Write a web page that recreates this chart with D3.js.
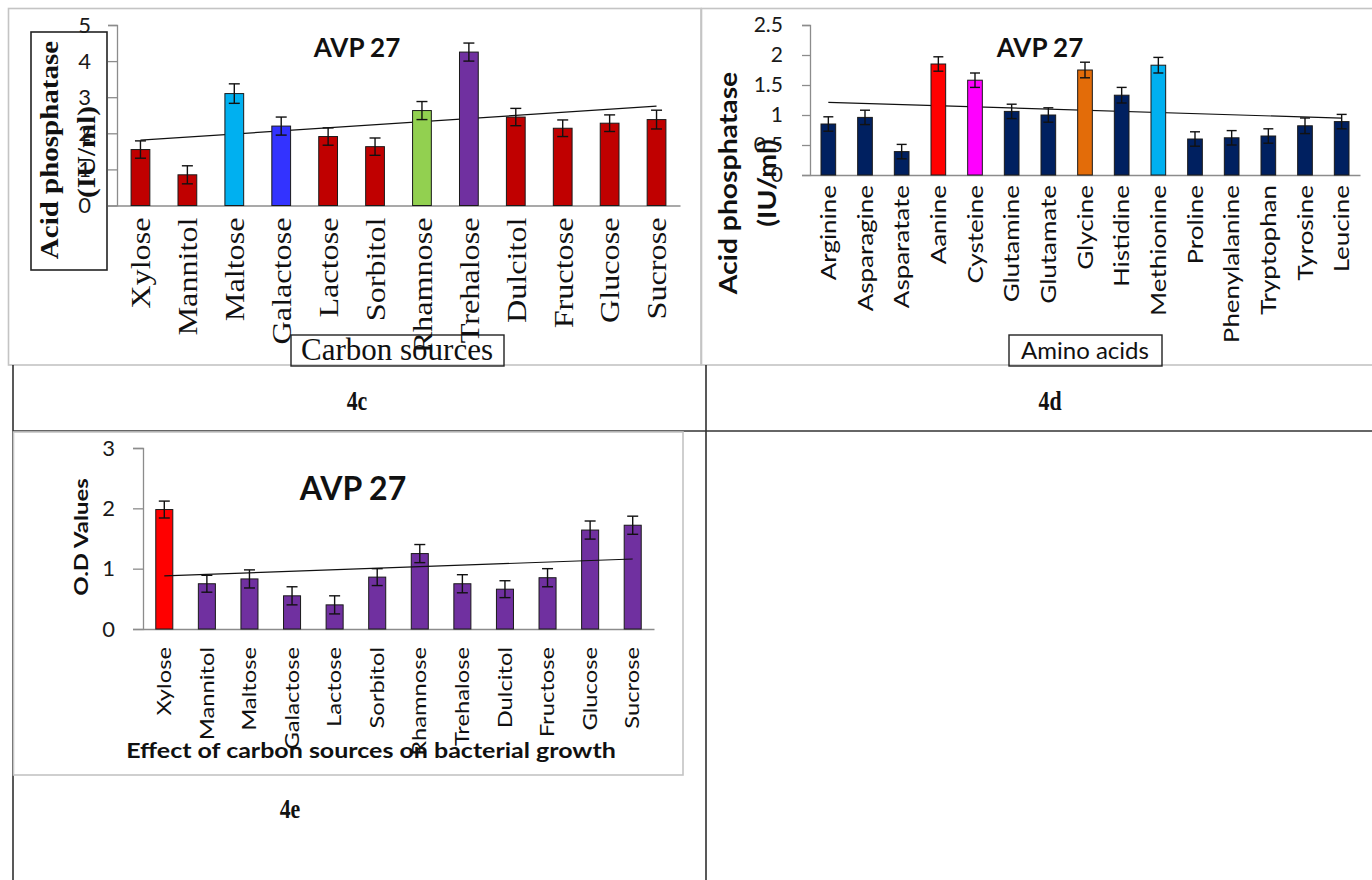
<!DOCTYPE html>
<html>
<head>
<meta charset="utf-8">
<script src="https://cdn.jsdelivr.net/npm/d3@7"></script>
<style>
  body { margin: 0; background: #fff; }
  svg { display: block; }
</style>
</head>
<body>
<svg id="fig" width="1372" height="880"></svg>
<script>
// ---- Panel 4c: acid phosphatase activity by carbon source ----
const carbonSources = ["Xylose", "Mannitol", "Maltose", "Galactose", "Lactose", "Sorbitol",
  "Rhamnose", "Trehalose", "Dulcitol", "Fructose", "Glucose", "Sucrose"];
const carbonActivity = [1.55, 0.85, 3.10, 2.20, 1.91, 1.63, 2.63, 4.25, 2.45, 2.14, 2.28, 2.38];
const carbonActivityErr = [0.24, 0.25, 0.27, 0.25, 0.24, 0.24, 0.25, 0.25, 0.24, 0.23, 0.23, 0.26];
const carbonColors = ["#C00000", "#C00000", "#00B0F0", "#3333FF", "#C00000", "#C00000",
  "#92D050", "#7030A0", "#C00000", "#C00000", "#C00000", "#C00000"];
const carbonTicks = [0, 1, 2, 3, 4, 5];

// ---- Panel 4d: acid phosphatase activity by amino acid ----
const aminoAcids = ["Arginine", "Asparagine", "Asparatate", "Aanine", "Cysteine", "Glutamine",
  "Glutamate", "Glycine", "Histidine", "Methionine", "Proline", "Phenylalanine",
  "Tryptophan", "Tyrosine", "Leucine"];
const aminoActivity = [0.85, 0.96, 0.39, 1.85, 1.58, 1.06, 1.00, 1.75, 1.33, 1.83, 0.60, 0.62, 0.65, 0.82, 0.89];
const aminoActivityErr = [0.12, 0.12, 0.12, 0.12, 0.12, 0.12, 0.12, 0.13, 0.13, 0.13, 0.12, 0.12, 0.12, 0.13, 0.12];
const aminoColors = ["#002060", "#002060", "#002060", "#FF0000", "#FF00FF", "#002060",
  "#002060", "#E36C09", "#002060", "#00B0F0", "#002060", "#002060",
  "#002060", "#002060", "#002060"];
const aminoTicks = [0, 0.5, 1, 1.5, 2, 2.5];

// ---- Panel 4e: bacterial growth (O.D) by carbon source ----
const growthSources = carbonSources;
const growthOD = [1.98, 0.75, 0.83, 0.55, 0.40, 0.86, 1.25, 0.75, 0.66, 0.85, 1.64, 1.72];
const growthODErr = [0.14, 0.14, 0.15, 0.15, 0.15, 0.14, 0.15, 0.15, 0.14, 0.15, 0.15, 0.15];
const growthColors = ["#FF0000", "#7030A0", "#7030A0", "#7030A0", "#7030A0", "#7030A0",
  "#7030A0", "#7030A0", "#7030A0", "#7030A0", "#7030A0", "#7030A0"];
const growthTicks = [0, 1, 2, 3];

const SANS = "Lato, 'Open Sans', sans-serif";
const SERIF = "'Liberation Serif', 'Times New Roman', serif";

const svg = d3.select("#fig");

// Least-squares linear trend over category index
function linearTrend(vals) {
  const mx = d3.mean(vals, (_, i) => i);
  const my = d3.mean(vals);
  let sxy = 0, sxx = 0;
  vals.forEach((v, i) => { sxy += (i - mx) * (v - my); sxx += (i - mx) * (i - mx); });
  const slope = sxy / sxx;
  return i => my + slope * (i - mx);
}

function drawPanel(cfg) {
  const g = svg.append("g");
  const x = d3.scaleBand().domain(cfg.categories).range(cfg.xRange).paddingInner(0).paddingOuter(0);
  const y = d3.scaleLinear().domain(cfg.yDomain).range(cfg.yRange);
  const bw = x.bandwidth() * 0.4;
  const cx = c => x(c) + x.bandwidth() / 2;

  // y axis
  const ya = g.append("g")
    .attr("transform", `translate(${cfg.xRange[0]},0)`)
    .call(d3.axisLeft(y).tickValues(cfg.ticks).tickFormat(d3.format("~g"))
      .tickSize(cfg.tickSize).tickPadding(cfg.tickPadding));
  ya.select(".domain").attr("stroke", "#8c8c8c").attr("stroke-width", 1.3);
  ya.selectAll(".tick line").attr("stroke", "#8c8c8c").attr("stroke-width", 1.3);
  ya.selectAll(".tick text")
    .attr("font-family", SANS).attr("font-size", cfg.tickFont).attr("fill", "#1a1a1a");

  // x axis with rotated category labels
  const xa = g.append("g")
    .attr("transform", `translate(0,${cfg.yRange[0]})`)
    .call(d3.axisBottom(x).tickSize(0).tickPadding(0));
  xa.select(".domain").attr("stroke", "#8c8c8c").attr("stroke-width", 1.3);
  xa.selectAll(".tick text")
    .attr("font-family", cfg.labelFamily).attr("font-size", cfg.labelFont).attr("fill", "#111")
    .attr("text-anchor", "end").attr("x", 0).attr("y", 0).attr("dy", "0.35em")
    .attr("transform", `translate(0,${cfg.labelGap}) rotate(-90) scale(${cfg.labelStretch},1)`);

  // bars
  g.append("g").selectAll("rect")
    .data(cfg.values)
    .join("rect")
    .attr("x", (d, i) => cx(cfg.categories[i]) - bw / 2)
    .attr("width", bw)
    .attr("y", d => y(d))
    .attr("height", d => y(0) - y(d))
    .attr("fill", (d, i) => cfg.colors[i])
    .attr("stroke", "#1a1a1a").attr("stroke-width", 1);

  // error bars
  const eg = g.append("g").attr("stroke", "#111").attr("stroke-width", 1.4);
  cfg.values.forEach((v, i) => {
    const c = cx(cfg.categories[i]);
    const e = cfg.errors[i];
    eg.append("line").attr("x1", c).attr("x2", c).attr("y1", y(v - e)).attr("y2", y(v + e));
    [v - e, v + e].forEach(t => {
      eg.append("line").attr("x1", c - cfg.cap / 2).attr("x2", c + cfg.cap / 2)
        .attr("y1", y(t)).attr("y2", y(t));
    });
  });

  // linear trendline
  const trend = linearTrend(cfg.values);
  const n = cfg.values.length;
  g.append("line")
    .attr("x1", cx(cfg.categories[0])).attr("y1", y(trend(0)))
    .attr("x2", cx(cfg.categories[n - 1])).attr("y2", y(trend(n - 1)))
    .attr("stroke", "#111").attr("stroke-width", 1.2);

  return g;
}

function rotatedText(g, text, xPos, yPos, family, size, weight, stretch) {
  return g.append("text")
    .attr("transform", `translate(${xPos},${yPos}) rotate(-90) scale(${stretch},1)`)
    .attr("text-anchor", "middle")
    .attr("font-family", family).attr("font-size", size).attr("font-weight", weight)
    .attr("fill", "#111").text(text);
}

function plainText(g, text, xPos, yPos, family, size, weight, sx, sy) {
  return g.append("text")
    .attr("transform", `translate(${xPos},${yPos}) scale(${sx},${sy || 1})`)
    .attr("text-anchor", "middle")
    .attr("font-family", family).attr("font-size", size).attr("font-weight", weight)
    .attr("fill", "#111").text(text);
}

// ---- table rules and chart frames ----
const frames = svg.append("g").attr("fill", "none");
frames.append("rect").attr("x", 8.5).attr("y", 8.5).attr("width", 692.5).attr("height", 356.5)
  .attr("stroke", "#c4c4c4").attr("stroke-width", 1.6);
frames.append("rect").attr("x", 701.5).attr("y", 8.5).attr("width", 690).attr("height", 356.5)
  .attr("stroke", "#c4c4c4").attr("stroke-width", 1.6);
frames.append("line").attr("x1", 13).attr("x2", 13).attr("y1", 365).attr("y2", 880)
  .attr("stroke", "#222").attr("stroke-width", 1.5);
frames.append("line").attr("x1", 706).attr("x2", 706).attr("y1", 365).attr("y2", 880)
  .attr("stroke", "#222").attr("stroke-width", 1.5);
frames.append("line").attr("x1", 13).attr("x2", 1372).attr("y1", 431).attr("y2", 431)
  .attr("stroke", "#333").attr("stroke-width", 1.5);
frames.append("rect").attr("x", 13.5).attr("y", 432).attr("width", 669.5).attr("height", 343)
  .attr("fill", "#fff").attr("stroke", "#c4c4c4").attr("stroke-width", 1.6);

// ---- 4c ----
const gc = drawPanel({
  categories: carbonSources, values: carbonActivity, errors: carbonActivityErr, colors: carbonColors,
  ticks: carbonTicks, yDomain: [0, 5], yRange: [205.5, 25], xRange: [117, 680],
  tickSize: 9, tickPadding: 17, tickFont: 22, cap: 11,
  labelFamily: SERIF, labelFont: 28, labelStretch: 1.15, labelGap: 12
});
plainText(gc, "AVP 27", 357, 57, SANS, 26, 700, 1);
gc.append("rect").attr("x", 31).attr("y", 32).attr("width", 76).attr("height", 238)
  .attr("fill", "none").attr("stroke", "#222").attr("stroke-width", 1.6);
rotatedText(gc, "Acid phosphatase", 58, 150, SERIF, 25, 700, 1.16);
rotatedText(gc, "(IU/ml)", 95, 152, SERIF, 25, 700, 1.16);
gc.append("rect").attr("x", 291).attr("y", 335).attr("width", 213).attr("height", 31)
  .attr("fill", "none").attr("stroke", "#222").attr("stroke-width", 1.4);
plainText(gc, "Carbon sources", 397, 360, SERIF, 31, 400, 1);
gc.selectAll("g").filter(function () { return this.parentNode === gc.node(); }).raise();

// ---- 4d ----
const gd = drawPanel({
  categories: aminoAcids, values: aminoActivity, errors: aminoActivityErr, colors: aminoColors,
  ticks: aminoTicks, yDomain: [0, 2.5], yRange: [175, 25], xRange: [810, 1360],
  tickSize: 8, tickPadding: 19, tickFont: 21, cap: 10,
  labelFamily: SANS, labelFont: 22, labelStretch: 1.18, labelGap: 10
});
plainText(gd, "AVP 27", 1040, 57, SANS, 26, 700, 1);
rotatedText(gd, "Acid phosphatase", 737, 183, SANS, 24, 700, 1.18);
rotatedText(gd, "(IU/ml)", 776, 183, SANS, 24, 700, 1.18);
gd.selectAll("g").filter(function () { return this.parentNode === gd.node(); }).raise();
gd.append("rect").attr("x", 1009).attr("y", 335).attr("width", 153).attr("height", 31)
  .attr("fill", "none").attr("stroke", "#222").attr("stroke-width", 1.4);
plainText(gd, "Amino acids", 1085, 359, SANS, 24, 400, 1);

// ---- 4e ----
const ge = drawPanel({
  categories: growthSources, values: growthOD, errors: growthODErr, colors: growthColors,
  ticks: growthTicks, yDomain: [0, 3], yRange: [629, 448], xRange: [143, 654],
  tickSize: 10, tickPadding: 18, tickFont: 22, cap: 11,
  labelFamily: SANS, labelFont: 19, labelStretch: 1.25, labelGap: 18
});
plainText(ge, "AVP 27", 353, 500, SANS, 32, 700, 1);
rotatedText(ge, "O.D Values", 88, 537, SANS, 19, 700, 1.26);
plainText(ge, "Effect of carbon sources on bacterial growth", 371, 758, SANS, 21, 700, 1.19);

// ---- panel captions ----
const capG = svg.append("g");
plainText(capG, "4c", 357, 410, SERIF, 23, 700, 0.95, 1.2);
plainText(capG, "4d", 1050, 410, SERIF, 23, 700, 0.95, 1.2);
plainText(capG, "4e", 290, 818, SERIF, 23, 700, 0.95, 1.2);
</script>
</body>
</html>
